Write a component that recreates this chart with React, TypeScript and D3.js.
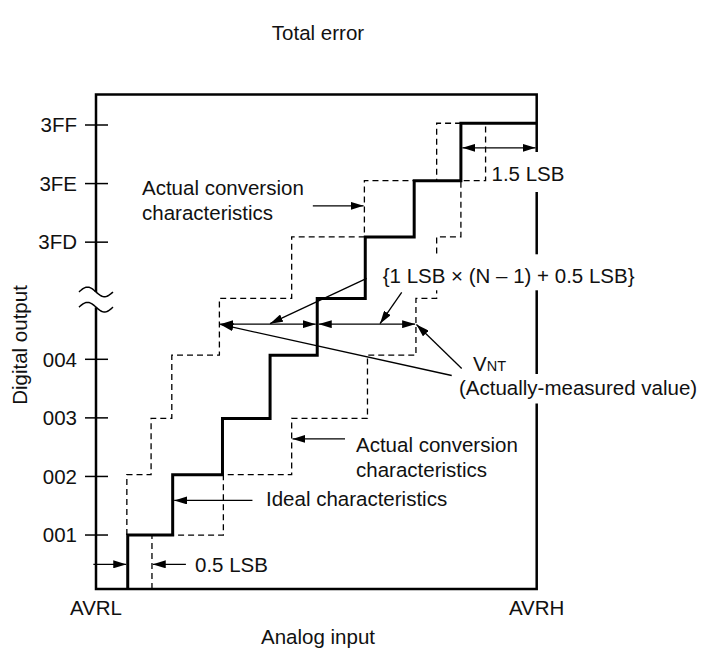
import React, { useEffect, useRef } from "react";
import * as d3 from "d3";

// output codes on the y axis (in code steps; the axis is broken between 004 and 3FD)
const codeTicks = [1, 2, 3, 4, 6, 7, 8];
const codeLabels = ["001", "002", "003", "004", "3FD", "3FE", "3FF"];

// drawn height of each output step, in code steps (first one = the x axis)
const stepLevels = [0.08, 1.0, 2.03, 2.99, 4.07, 5.04, 6.09, 7.05, 8.03];

// analog input (% of AVRL..AVRH) where each characteristic steps up to the next code
const idealRisers = [7.2, 17.4, 28.7, 39.5, 50.2, 61.1, 72.2, 82.8];
const earlyRisers = [7.0, 12.5, 17.2, 28.0, 44.4, 60.9, 77.3]; // starts at code 001
const lateRisers = [12.7, 28.9, 44.4, 61.6, 72.6, 77.3, 82.8, 88.4];

const W = 706;
const H = 655;
const FONT = "'Liberation Sans', Arial, Helvetica, sans-serif";
const FS = 20.5;

type Pt = [number, number];

function stairs(risers: number[], start: number, endX: number): Pt[] {
  const pts: Pt[] = [];
  risers.forEach((r, i) => {
    pts.push([r, stepLevels[start + i]]);
    pts.push([r, stepLevels[start + i + 1]]);
  });
  pts.push([endX, stepLevels[start + risers.length]]);
  return pts;
}

const App: React.FC = () => {
  const ref = useRef<SVGSVGElement | null>(null);

  useEffect(() => {
    document.body.style.margin = "0";
    if (!ref.current) return;
    const svg = d3.select(ref.current);
    svg.selectAll("*").remove();

    const x = d3.scaleLinear().domain([0, 100]).range([96, 536.7]);
    const y = d3.scaleLinear().domain([0, 8]).range([593.6, 125]);
    const boxLo = 0.08;
    const boxHi = 8.52;
    const left = x(0);
    const right = x(100);
    const bottom = y(boxLo);
    const top = y(boxHi);

    svg
      .append("defs")
      .append("marker")
      .attr("id", "ah")
      .attr("viewBox", "0 0 13 8")
      .attr("refX", 13)
      .attr("refY", 4)
      .attr("markerWidth", 13)
      .attr("markerHeight", 8)
      .attr("markerUnits", "userSpaceOnUse")
      .attr("orient", "auto-start-reverse")
      .append("path")
      .attr("d", "M0,0 L13,4 L0,8 Z")
      .attr("fill", "#000");

    svg.append("rect").attr("width", W).attr("height", H).attr("fill", "#fff");

    const lines = svg.append("g");
    const halos = svg.append("g");
    const texts = svg.append("g").attr("font-family", FONT).attr("font-size", FS).attr("fill", "#111");

    const line = d3
      .line<Pt>()
      .x(d => x(d[0]))
      .y(d => y(d[1]));

    // dashed: actual conversion characteristics
    [stairs(earlyRisers, 1, idealRisers[7]), stairs(lateRisers, 0, 100)].forEach(pts => {
      lines
        .append("path")
        .attr("d", line(pts))
        .attr("fill", "none")
        .attr("stroke", "#000")
        .attr("stroke-width", 1.3)
        .attr("stroke-dasharray", "6,4");
    });

    // frame with break on the left axis
    const brkHi = 5.15;
    const brkLo = 4.89;
    const frame = d3.path();
    frame.moveTo(left, y(brkHi));
    frame.lineTo(left, top);
    frame.lineTo(right, top);
    frame.lineTo(right, bottom);
    frame.lineTo(left, bottom);
    frame.lineTo(left, y(brkLo));
    lines
      .append("path")
      .attr("d", frame.toString())
      .attr("fill", "none")
      .attr("stroke", "#000")
      .attr("stroke-width", 2.5);

    [brkHi, brkLo].forEach(v => {
      const cy = y(v);
      const pts: Pt[] = d3.range(0, 35).map(i => [left - 17 + i, cy - 4.8 * Math.sin((2 * Math.PI * i) / 34)]);
      lines
        .append("path")
        .attr("d", d3.line()(pts))
        .attr("fill", "none")
        .attr("stroke", "#000")
        .attr("stroke-width", 1.5);
    });

    // ideal characteristics
    lines
      .append("path")
      .attr("d", line(stairs(idealRisers, 0, 100)))
      .attr("fill", "none")
      .attr("stroke", "#000")
      .attr("stroke-width", 3)
      .attr("stroke-linejoin", "miter");

    // y ticks
    codeTicks.forEach((c, i) => {
      lines
        .append("line")
        .attr("x1", left - 11)
        .attr("x2", left + 12)
        .attr("y1", y(c))
        .attr("y2", y(c))
        .attr("stroke", "#000")
        .attr("stroke-width", 1.5);
      texts
        .append("text")
        .attr("x", left - 19)
        .attr("y", y(c) + 7.3)
        .attr("text-anchor", "end")
        .text(codeLabels[i]);
    });

    const arrow = (x1: number, y1: number, x2: number, y2: number, both = false) => {
      const a = lines
        .append("line")
        .attr("x1", x1)
        .attr("y1", y1)
        .attr("x2", x2)
        .attr("y2", y2)
        .attr("stroke", "#000")
        .attr("stroke-width", 1.3)
        .attr("marker-end", "url(#ah)");
      if (both) a.attr("marker-start", "url(#ah)");
    };

    // 0.5 LSB
    arrow(x(-0.6), y(0.5), x(idealRisers[0]) - 1.5, y(0.5));
    arrow(x(20.4), y(0.5), x(lateRisers[0]) + 0.8, y(0.5));
    // ideal characteristics pointer
    arrow(x(35.5), y(1.59), x(idealRisers[1]) + 1.5, y(1.59));
    // lower actual pointer
    arrow(x(56.5), y(2.64), x(lateRisers[2]) + 0.8, y(2.64));
    // upper actual pointer
    arrow(x(49.2), y(6.62), x(earlyRisers[5]) - 0.8, y(6.62));
    // 1.5 LSB
    arrow(x(idealRisers[7]) + 1.5, y(7.61), right - 1.2, y(7.61), true);
    // {1 LSB x (N-1) + 0.5 LSB} spans
    const yn = y(4.6);
    arrow(x(earlyRisers[3]) + 0.8, yn, x(idealRisers[4]) - 1.5, yn, true);
    arrow(x(idealRisers[4]) + 1.5, yn, x(lateRisers[4]) - 0.8, yn, true);
    // leaders from the formula
    arrow(366.7, 278.3, 270, yn - 0.5);
    arrow(401.7, 292.3, 380, yn - 0.5);
    // leaders from VNT
    arrow(451.7, 375.5, x(earlyRisers[3]) + 1, yn + 0.3);
    arrow(461.7, 368.5, x(lateRisers[4]) + 0.5, yn + 0.3);

    const label = (
      t: string,
      tx: number,
      ty: number,
      anchor = "start",
      halo?: [number, number]
    ) => {
      const el = texts.append("text").attr("x", tx).attr("y", ty).attr("text-anchor", anchor).text(t);
      if (halo) {
        const b = (el.node() as SVGTextElement).getBBox();
        halos
          .append("rect")
          .attr("x", b.x - 3)
          .attr("y", b.y - halo[0])
          .attr("width", b.width + 6)
          .attr("height", b.height + halo[0] + halo[1])
          .attr("fill", "#fff");
      }
      return el;
    };

    label("Total error", 318, 40, "middle");
    label("Analog input", 318, 644, "middle");
    label("AVRL", left, 615, "middle");
    label("AVRH", right, 615, "middle");
    texts
      .append("text")
      .attr("transform", "translate(27,345) rotate(-90)")
      .attr("text-anchor", "middle")
      .text("Digital output");

    label("Actual conversion", 142, 195);
    label("characteristics", 142, 220);
    label("1.5 LSB", 491.5, 181, "start", [10, 7]);
    label("{1 LSB \u00d7 (N \u2013 1) + 0.5 LSB}", 382.7, 283.3, "start", [10, 3]);
    const vnt = texts.append("text").attr("x", 473).attr("y", 370.5);
    vnt.append("tspan").text("V");
    vnt.append("tspan").attr("font-size", 14.5).text("NT");
    label("(Actually-measured value)", 459, 394.5, "start", [1.5, 5]);
    label("Actual conversion", 356, 451.7);
    label("characteristics", 356, 476.7);
    label("Ideal characteristics", 266, 506);
    label("0.5 LSB", 195, 571.7);
  }, []);

  return <svg ref={ref} width={W} height={H} style={{ display: "block" }} />;
};

export default App;
